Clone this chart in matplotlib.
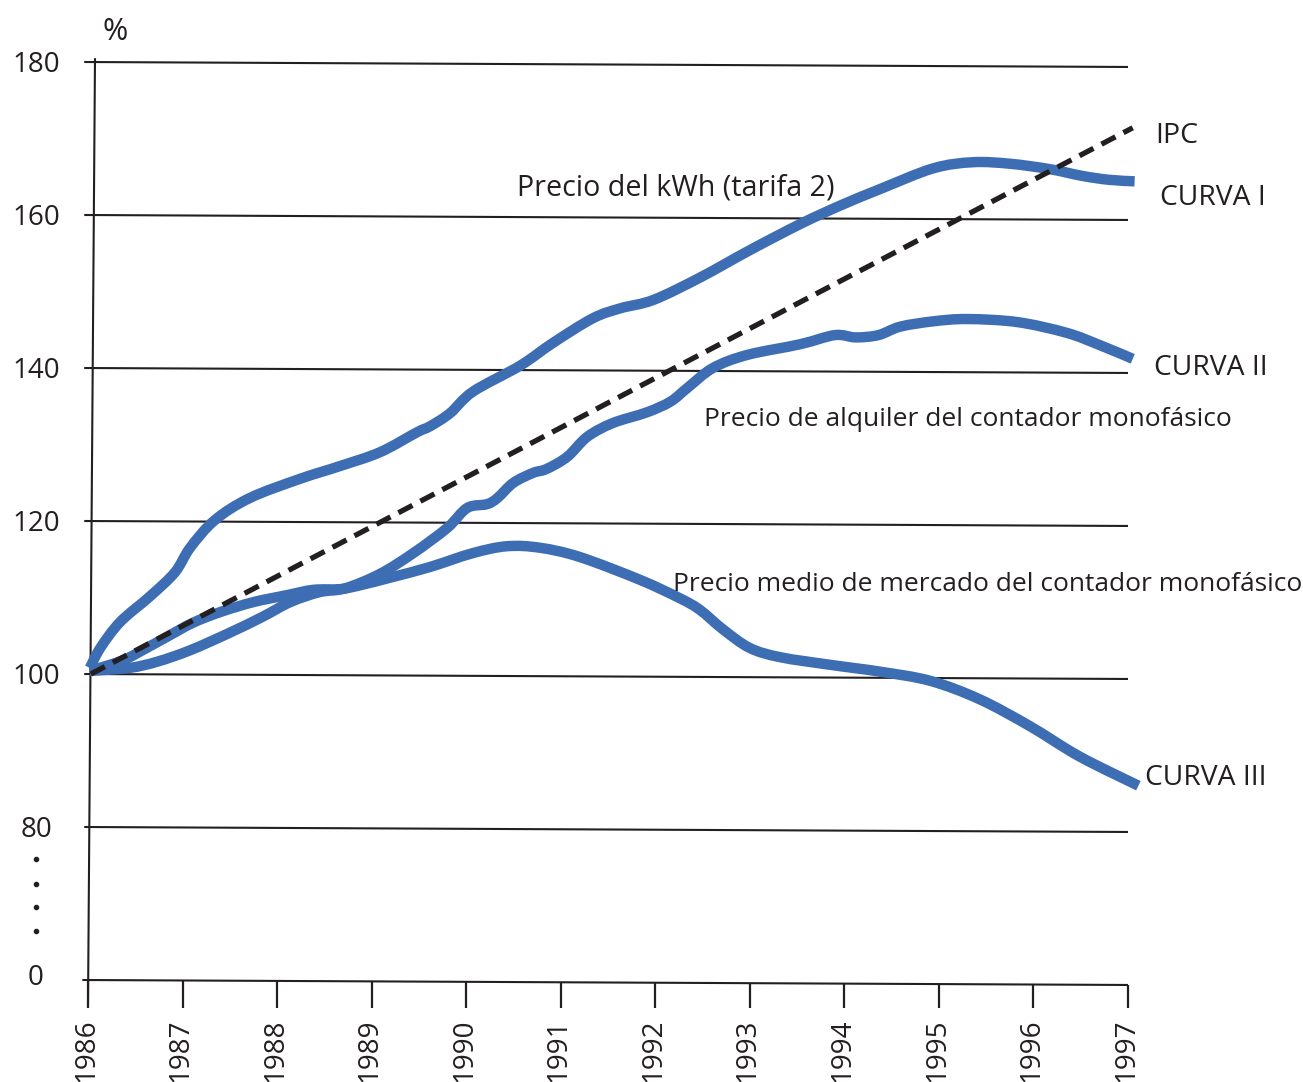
import matplotlib
matplotlib.use("Agg")
import matplotlib.pyplot as plt
from matplotlib.path import Path
from matplotlib.patches import PathPatch

# ---------------- data ----------------
years = [1986, 1987, 1988, 1989, 1990, 1991, 1992, 1993, 1994, 1995, 1996, 1997]
grid_values = [180, 160, 140, 120, 100, 80]
ytick_labels = ["180", "160", "140", "120", "100", "80"]

# CURVA I  - Precio del kWh (tarifa 2)
c1_x = [1986.02, 1986.13, 1986.34, 1986.66, 1986.92, 1987.08, 1987.34, 1987.71, 1988.24,
        1988.67, 1989.09, 1989.48, 1989.62, 1989.83, 1990.07, 1990.57, 1990.92, 1991.34,
        1991.63, 1991.98, 1992.47, 1993.00, 1993.53, 1993.95, 1994.38, 1994.94, 1995.36,
        1995.75, 1996.17, 1996.52, 1996.80, 1997.07]
c1_y = [100.8, 103.4, 106.8, 110.2, 113.3, 116.5, 120.1, 123.0, 125.5,
        127.2, 129.0, 131.6, 132.4, 134.1, 136.9, 140.3, 143.3, 146.5,
        147.8, 148.9, 151.8, 155.4, 158.8, 161.2, 163.4, 166.1, 166.9,
        166.7, 166.0, 165.1, 164.6, 164.4]

# CURVA II - Precio de alquiler del contador monofásico
c2_x = [1986.02, 1986.44, 1986.73, 1987.08, 1987.50, 1987.85, 1988.14, 1988.45, 1988.72,
        1989.09, 1989.44, 1989.80, 1990.01, 1990.22, 1990.33, 1990.50, 1990.71, 1990.85,
        1991.07, 1991.28, 1991.55, 1991.91, 1992.16, 1992.34, 1992.61, 1992.97, 1993.53,
        1993.90, 1994.12, 1994.36, 1994.59, 1994.94, 1995.30, 1995.83, 1996.35, 1996.70,
        1997.05]
c2_y = [100.4, 100.8, 101.6, 103.1, 105.4, 107.5, 109.4, 110.7, 111.2,
        113.1, 115.8, 119.1, 121.7, 122.2, 123.0, 125.0, 126.3, 126.8,
        128.4, 131.0, 132.8, 134.2, 135.6, 137.4, 140.0, 141.7, 143.1,
        144.3, 144.0, 144.3, 145.4, 146.1, 146.4, 146.0, 144.6, 143.0,
        141.2]

# CURVA III - Precio medio de mercado del contador monofásico
c3_x = [1986.02, 1986.37, 1986.62, 1986.87, 1987.11, 1987.40, 1987.75, 1988.10, 1988.38,
        1988.67, 1988.88, 1989.23, 1989.62, 1990.07, 1990.43, 1990.78, 1991.20, 1991.84,
        1992.26, 1992.47, 1992.72, 1993.00, 1993.32, 1993.85, 1994.38, 1994.91, 1995.43,
        1995.96, 1996.49, 1997.11]
c3_y = [100.4, 101.8, 103.4, 105.1, 106.7, 108.1, 109.4, 110.3, 111.0,
        111.1, 111.6, 112.7, 114.0, 115.8, 116.7, 116.5, 115.3, 112.3,
        109.9, 108.4, 105.8, 103.4, 102.2, 101.2, 100.3, 99.1, 96.7,
        93.2, 89.2, 85.4]

# IPC
ipc_x = [1986.03, 1997.05]
ipc_y = [100.0, 171.4]

# ---------------- style ----------------
FONT = "Open Sans"
TXT = "#231f20"
BLUE = "#3d6db3"
plt.rcParams["font.family"] = [FONT, "DejaVu Sans"]

fig = plt.figure(figsize=(13.03, 10.82), dpi=100)
ax = fig.add_axes([88 / 1303, 102 / 1082, 1040 / 1303, 918 / 1082])
ax.set_xlim(1986, 1997)
ax.set_ylim(60, 180)   # axis is broken: display value 60 stands for "0"
ax.axis("off")

TILT = 0.65   # hand-drawn lines drop slightly to the right


def smooth_path(xs, ys):
    """Cubic Bezier path passing through the data points (Catmull-Rom tangents)."""
    pts = list(zip(xs, ys))
    n = len(pts)
    verts = [pts[0]]
    codes = [Path.MOVETO]
    for i in range(n - 1):
        p0 = pts[i - 1] if i > 0 else pts[i]
        p1 = pts[i]
        p2 = pts[i + 1]
        p3 = pts[i + 2] if i + 2 < n else pts[i + 1]
        c1 = (p1[0] + (p2[0] - p0[0]) / 6, p1[1] + (p2[1] - p0[1]) / 6)
        c2 = (p2[0] - (p3[0] - p1[0]) / 6, p2[1] - (p3[1] - p1[1]) / 6)
        verts += [c1, c2, p2]
        codes += [Path.CURVE4] * 3
    return Path(verts, codes)


# grid lines
for v in grid_values:
    ax.plot([1985.96, 1997.0], [v, v - TILT], color=TXT, lw=1.5, clip_on=False,
            solid_capstyle="butt", zorder=1)
# bottom axis (value "0")
ax.plot([1985.94, 1997.0], [60, 60 - TILT], color=TXT, lw=1.5, clip_on=False,
        solid_capstyle="butt", zorder=1)
# vertical axis
ax.plot([1986.074, 1986.0], [180.5, 56.7], color=TXT, lw=1.5, clip_on=False,
        solid_capstyle="butt", zorder=1)
# x ticks and labels
for yr in years:
    base = 60 - TILT * (yr - 1986) / 11
    ax.plot([yr, yr], [base, 56.4], color=TXT, lw=1.6, clip_on=False,
            solid_capstyle="butt", zorder=1)
    ax.text(yr - 0.02, 55.0, str(yr), rotation=90, ha="center", va="top",
            fontsize=20, color=TXT, clip_on=False)

# y labels
LX = 1985.45
for v, lab in zip(grid_values, ytick_labels):
    ax.text(LX, v - 1.35, lab, ha="center", va="baseline", fontsize=20, color=TXT)
ax.text(LX, 60.7 - 1.35, "0", ha="center", va="baseline", fontsize=20, color=TXT)
ax.plot([LX] * 4, [75.8, 72.6, 69.5, 66.4], linestyle="none", marker="o",
        markersize=3.0, color=TXT, clip_on=False)
ax.text(1986.29, 182.9, "%", ha="center", va="baseline", fontsize=22, color=TXT)

# curves
for cx, cy in [(c3_x, c3_y), (c2_x, c2_y), (c1_x, c1_y)]:
    patch = PathPatch(smooth_path(cx, cy), facecolor="none", edgecolor=BLUE, lw=7.5,
                      capstyle="butt", joinstyle="round", transform=ax.transData,
                      clip_on=False, zorder=3)
    ax.add_patch(patch)
ax.plot(ipc_x, ipc_y, color=TXT, lw=3.8, dashes=(3.0, 1.7), clip_on=False, zorder=4)

# annotations (x, baseline, text, size)
ann = [
    (1997.29, 169.4, "IPC", 20.5),
    (1997.34, 161.3, "CURVA I", 20.3),
    (1997.275, 139.1, "CURVA II", 20.3),
    (1997.18, 85.5, "CURVA III", 20.3),
    (1990.54, 162.5, "Precio del kWh (tarifa 2)", 20.6),
    (1992.52, 132.4, "Precio de alquiler del contador monofásico", 19.0),
    (1992.19, 110.85, "Precio medio de mercado del contador monofásico", 19.0),
]
for x, y, s, fs in ann:
    ax.text(x, y, s, ha="left", va="baseline", fontsize=fs, color=TXT, clip_on=False)

fig.savefig("out.png", dpi=100)
